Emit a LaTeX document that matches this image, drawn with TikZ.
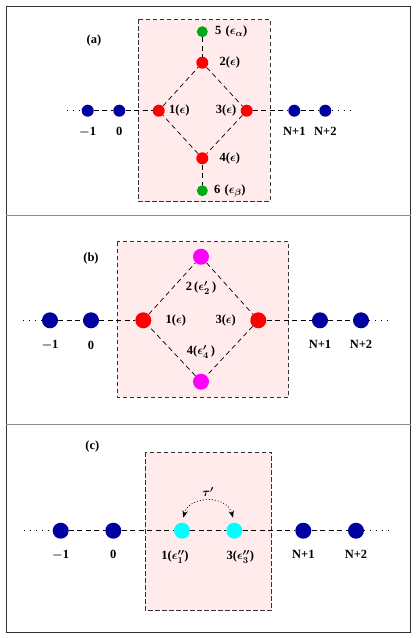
\documentclass[tikz,border=0pt]{standalone}
\usepackage{fontspec}
\setmainfont{Liberation Serif}
\usepackage{tikz}
\usetikzlibrary{arrows.meta, positioning}
\definecolor{sitenavy}{RGB}{0, 0, 160}
\definecolor{sitered}{RGB}{255, 0, 0}
\definecolor{sitegreen}{RGB}{0, 170, 20}
\definecolor{sitemagenta}{RGB}{255, 0, 255}
\definecolor{sitecyan}{RGB}{0, 255, 255}
\definecolor{boxpink}{RGB}{255, 235, 235}
\definecolor{framegray}{RGB}{51, 51, 51}
\definecolor{sepgray}{RGB}{140, 140, 140}

\begin{document}
\begin{tikzpicture}[
    x=1pt, y=-1pt,
    site/.style={circle, inner sep=0pt, minimum size=16pt},
    small/.style={minimum size=12pt},
    lbl/.style={inner sep=1pt, font=\fontsize{12.5}{14}\selectfont\bfseries\boldmath},
    bond/.style={dash pattern=on 5pt off 3.5pt, line width=0.7pt},
    tail/.style={dash pattern=on 1pt off 5pt, line width=0.8pt},
    region/.style={fill=boxpink, draw=black!80, dash pattern=on 4.5pt off 2.5pt, line width=0.8pt},
    hop/.style={{Stealth[length=2.5mm]}-{Stealth[length=2.5mm]}, dash pattern=on 1pt off 2pt, line width=0.7pt}
]
\useasboundingbox (0,0) rectangle (417,638);

% frame and separators
\draw[framegray, line width=1pt] (6.3,6) rectangle (410.7,632.7);
\draw[sepgray, line width=1pt] (6.3,215) -- (410.7,215);
\draw[sepgray, line width=1pt] (6.3,424.3) -- (410.7,424.3);

% ---------- panel (a)
\draw[region] (138.7,19.3) rectangle (270,201.7);
\node[lbl] (lab-a) at (94,40) {(a)};
\coordinate (a-l) at (67,110.7);
\coordinate (a-r) at (350,110.7);
\node[site, small, fill=sitenavy] (a-m1) at (87.7,110.7) {};
\node[site, small, fill=sitenavy] (a-0) at (119.3,110.7) {};
\node[site, small, fill=sitered] (a-1) at (158.7,110.7) {};
\node[site, small, fill=sitered] (a-3) at (246.7,110.7) {};
\node[site, small, fill=sitenavy] (a-n1) at (294.3,110.7) {};
\node[site, small, fill=sitenavy] (a-n2) at (325.3,110.7) {};
\node[site, small, fill=sitered] (a-2) at (202.3,62.7) {};
\node[site, small, fill=sitered] (a-4) at (202.3,158.3) {};
\node[site, small, fill=sitegreen, minimum size=11pt] (a-5) at (202.3,31.7) {};
\node[site, small, fill=sitegreen, minimum size=11pt] (a-6) at (202.3,190.7) {};

\draw[tail] (a-l) -- (a-m1);
\draw[tail] (a-n2) -- (a-r);
\draw[bond] (a-m1) -- (a-0);
\draw[bond] (a-0) -- (a-1);
\draw[bond] (a-3) -- (a-n1);
\draw[bond] (a-n1) -- (a-n2);
\draw[bond] (a-1) -- (a-2);
\draw[bond] (a-2) -- (a-3);
\draw[bond] (a-3) -- (a-4);
\draw[bond] (a-4) -- (a-1);
\draw[bond] (a-5) -- (a-2);
\draw[bond] (a-4) -- (a-6);

\node[lbl, right=6pt of a-5] {5\,\,($\epsilon_\alpha$)};
\node[lbl, right=10pt of a-2] {2($\epsilon$)};
\node[lbl, right=3pt of a-1] {1($\epsilon$)};
\node[lbl, left=3pt of a-3] {3($\epsilon$)};
\node[lbl, right=10pt of a-4] {4($\epsilon$)};
\node[lbl, right=5pt of a-6] {6\,\,($\epsilon_\beta$)};
\node[lbl, below=9pt of a-m1] {$-$1};
\node[lbl, below=9pt of a-0] {0};
\node[lbl, below=9pt of a-n1] {N+1};
\node[lbl, below=9pt of a-n2] {N+2};

% ---------- panel (b)
\draw[region] (117.3,241.7) rectangle (288.7,397.3);
\node[lbl] (lab-b) at (91,258.3) {(b)};
\coordinate (b-l) at (23,320.3);
\coordinate (b-r) at (393,320.3);
\node[site, fill=sitenavy] (b-m1) at (50,320.3) {};
\node[site, fill=sitenavy] (b-0) at (91,320.3) {};
\node[site, fill=sitered] (b-1) at (143.3,320.3) {};
\node[site, fill=sitered] (b-3) at (258.3,320.3) {};
\node[site, fill=sitenavy] (b-n1) at (320,320.3) {};
\node[site, fill=sitenavy] (b-n2) at (361,320.3) {};
\node[site, fill=sitemagenta] (b-2) at (201,256.7) {};
\node[site, fill=sitemagenta] (b-4) at (201,381.7) {};

\draw[tail] (b-l) -- (b-m1);
\draw[tail] (b-n2) -- (b-r);
\draw[bond] (b-m1) -- (b-0);
\draw[bond] (b-0) -- (b-1);
\draw[bond] (b-3) -- (b-n1);
\draw[bond] (b-n1) -- (b-n2);
\draw[bond] (b-1) -- (b-2);
\draw[bond] (b-2) -- (b-3);
\draw[bond] (b-3) -- (b-4);
\draw[bond] (b-4) -- (b-1);

\node[lbl, below=15pt of b-2] {2\,($\epsilon'_2$\,)};
\node[lbl, above=14pt of b-4] {4($\epsilon'_4$\,)};
\node[lbl, right=13pt of b-1] {1($\epsilon$)};
\node[lbl, left=13pt of b-3] {3($\epsilon$)};
\node[lbl, below=11pt of b-m1] {$-$1};
\node[lbl, below=11pt of b-0] {0};
\node[lbl, below=11pt of b-n1] {N+1};
\node[lbl, below=11pt of b-n2] {N+2};

% ---------- panel (c)
\draw[region] (145,452) rectangle (271.7,610);
\node[lbl] (lab-c) at (92.3,446.7) {(c)};
\coordinate (c-l) at (24,530.7);
\coordinate (c-r) at (393,530.7);
\node[site, fill=sitenavy] (c-m1) at (60.7,530.7) {};
\node[site, fill=sitenavy] (c-0) at (113.3,530.7) {};
\node[site, fill=sitecyan] (c-1) at (182,530.7) {};
\node[site, fill=sitecyan] (c-3) at (234.3,530.7) {};
\node[site, fill=sitenavy] (c-n1) at (303.3,530.7) {};
\node[site, fill=sitenavy] (c-n2) at (356,530.7) {};

\draw[tail] (c-l) -- (c-m1);
\draw[tail] (c-n2) -- (c-r);
\draw[bond] (c-m1) -- (c-0);
\draw[bond] (c-0) -- (c-1);
\draw[bond] (c-1) -- (c-3);
\draw[bond] (c-3) -- (c-n1);
\draw[bond] (c-n1) -- (c-n2);

\draw[hop, shorten <=5pt, shorten >=5pt] (c-1.north) to[out=75, in=105, looseness=1.4]
    node[lbl, above=4pt] {$\tau'$} (c-3.north);

\node[lbl, below=10pt of c-1, xshift=-7pt] {1($\epsilon''_1$)};
\node[lbl, below=10pt of c-3, xshift=6pt] {3($\epsilon''_3$)};
\node[lbl, below=10pt of c-m1] {$-$1};
\node[lbl, below=10pt of c-0] {0};
\node[lbl, below=10pt of c-n1] {N+1};
\node[lbl, below=10pt of c-n2] {N+2};

\end{tikzpicture}
\end{document}
